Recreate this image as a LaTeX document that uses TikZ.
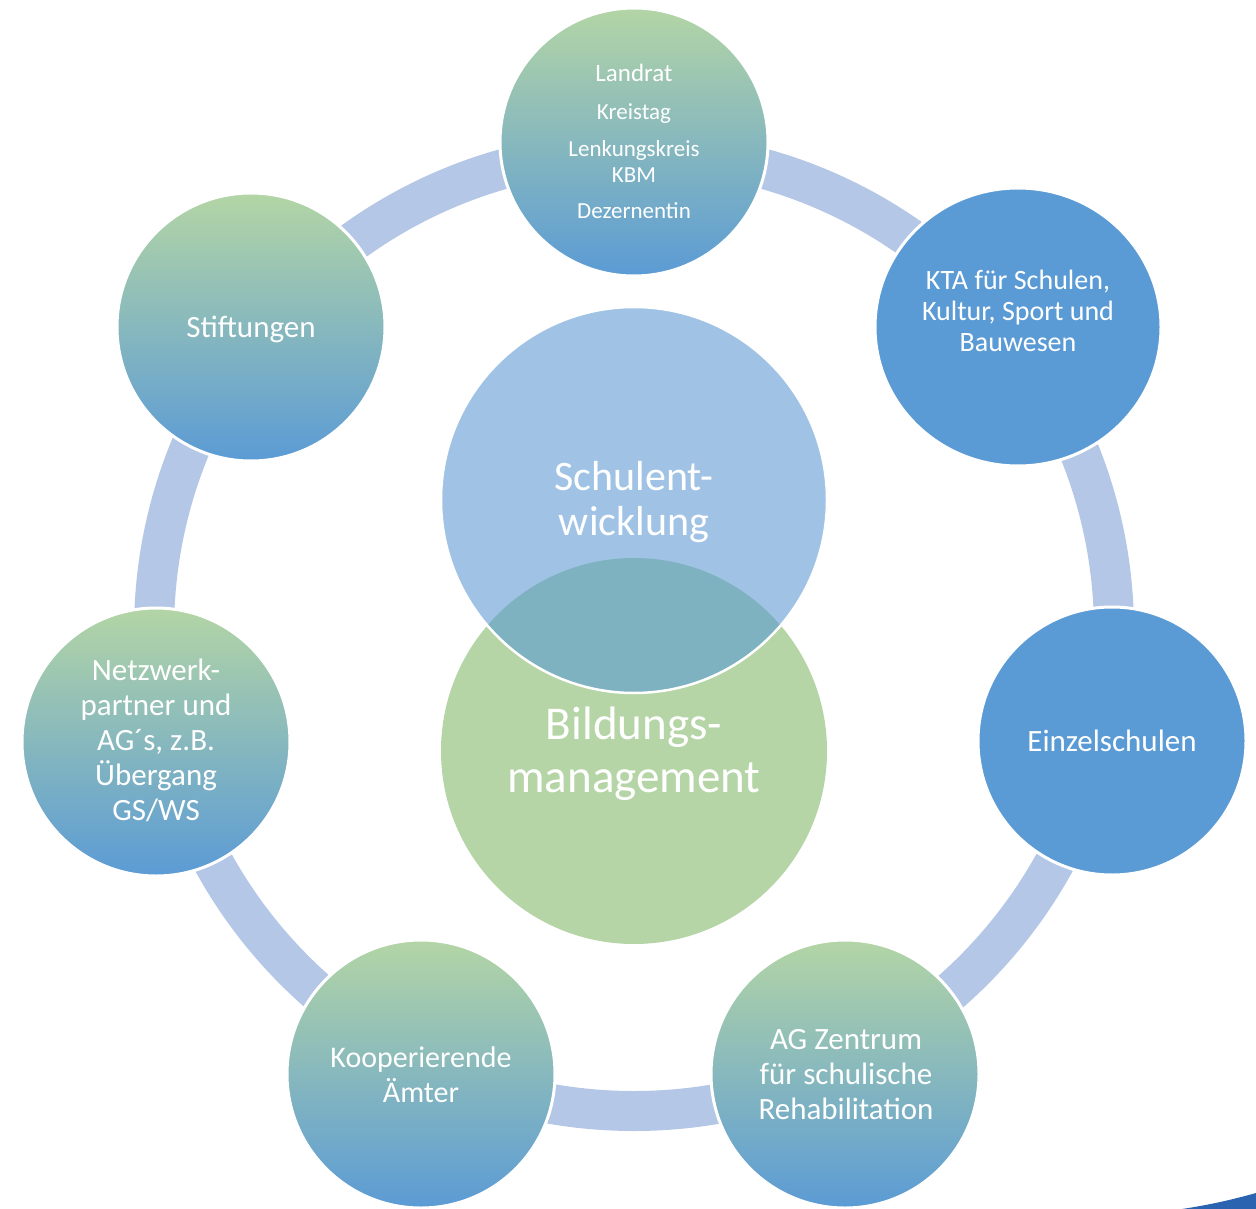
\documentclass[tikz,border=0pt]{standalone}
\usepackage{fontspec}
\setmainfont{Carlito}
\usetikzlibrary{shapes.geometric}
\definecolor{ringc}{HTML}{B4C7E7}
\definecolor{cblue}{HTML}{5B9BD5}
\definecolor{cgreen}{HTML}{B3D5A5}
\definecolor{cschul}{HTML}{A0C3E5}
\definecolor{cbild}{HTML}{B5D5A6}
\definecolor{clens}{HTML}{7FB2C0}
\definecolor{cswoosh}{HTML}{2A64B0}
\newcommand\mylines[3]{\fontsize{#1}{#2}\selectfont\begin{tabular}[t]{@{}c@{}}#3\end{tabular}}
\begin{document}
\begin{tikzpicture}[x=1pt,y=-1pt,
  ring/.style={draw=ringc, line width=40pt},
  gradc/.style={circle, draw=white, line width=3pt, top color=cgreen, bottom color=cblue, minimum size=268pt, inner sep=0pt},
  solidc/.style={circle, draw=white, line width=3pt, fill=cblue, minimum size=268pt, inner sep=0pt},
  bigc/.style={circle, minimum size=386pt, inner sep=0pt},
  txt/.style={text=white, anchor=base, inner sep=0pt},
]
\useasboundingbox (0,0) rectangle (1256,1209);
\fill[white] (0,0) rectangle (1256,1209);

% ring
\coordinate (hub) at (634,631);
\draw[ring] (hub) circle[radius=480pt];

% outer circles
\node[gradc] (top) at (634,142) {};
\node[ellipse, draw=white, line width=3pt, fill=cblue, minimum width=286pt, minimum height=278pt, inner sep=0pt] (kta) at (1018,327) {};
\node[solidc] (einz) at (1112,741) {};
\node[gradc] (agz) at (845,1074) {};
\node[gradc] (koop) at (421,1074) {};
\node[gradc] (netz) at (156,742) {};
\node[gradc] (stift) at (251,327) {};

% centre circles
\node[bigc, fill=cbild] (bild) at (634,751) {};
\node[bigc, fill=cschul] (schul) at (634,500) {};
\begin{scope}
  \clip (bild.center) circle[radius=193pt];
  \fill[clens] (schul.center) circle[radius=193pt];
\end{scope}
\draw[white, line width=2.5pt] (schul.center) circle[radius=193pt];

% texts
\node[txt] (t1) at (634,82) {\mylines{25}{28}{Landrat}};
\node[txt] (t2) at (634,120) {\mylines{23}{26}{Kreistag}};
\node[txt] (t3) at (634,157) {\mylines{23}{26}{Lenkungskreis\\KBM}};
\node[txt] (t4) at (634,219) {\mylines{23}{26}{Dezernentin}};

\node[txt] (tkta) at (1018,290) {\mylines{28}{31}{KTA für Schulen,\\Kultur, Sport und\\Bauwesen}};
\node[txt] (teinz) at (1112,751) {\mylines{31}{35}{Einzelschulen}};
\node[txt] (tagz) at (846,1049) {\mylines{31}{35}{AG Zentrum\\für schulische\\Rehabilitation}};
\node[txt] (tkoop) at (421,1067) {\mylines{30}{35}{Kooperierende\\Ämter}};
\node[txt] (tnetz) at (156,680) {\mylines{31}{35}{Netzwerk-\\partner und\\AG´s, z.B.\\Übergang\\GS/WS}};
\node[txt] (tstift) at (251,337) {\mylines{31}{35}{Stiftungen}};

\node[txt] (tschul) at (634,490) {\mylines{42}{45}{Schulent-\\wicklung}};
\node[txt] (tbild) at (634,739) {\mylines{47}{53}{Bildungs-\\management}};

% corner swoosh
\fill[cswoosh] (1182,1209) .. controls (1215,1204) and (1238,1198) .. (1256,1193) -- (1256,1209) -- cycle;
\end{tikzpicture}
\end{document}
